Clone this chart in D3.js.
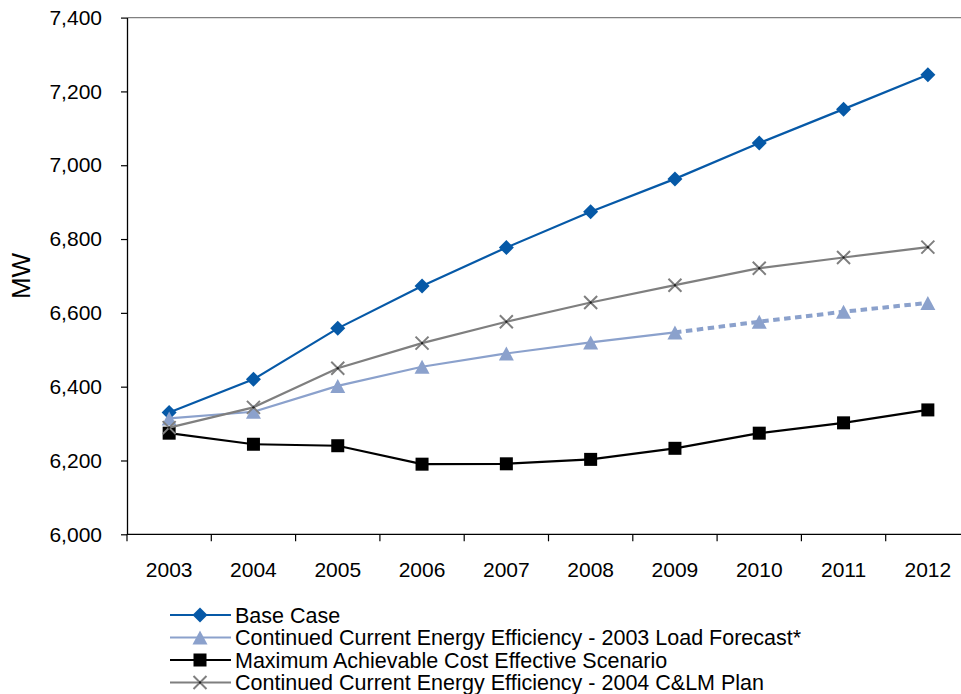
<!DOCTYPE html>
<html>
<head>
<meta charset="utf-8">
<script src="https://cdn.jsdelivr.net/npm/d3@7/dist/d3.min.js"></script>
<style>
  html, body { margin: 0; padding: 0; background: #fff; }
  svg { display: block; font-family: "Liberation Sans", Arial, sans-serif; }
</style>
</head>
<body>
<svg id="chart" width="961" height="694"></svg>
<script>
// Peak load outlook, MW, 2003-2012
const years = ["2003", "2004", "2005", "2006", "2007", "2008", "2009", "2010", "2011", "2012"];
const baseCase        = [6330, 6420, 6558, 6673, 6777, 6874, 6963, 7060, 7152, 7245];
const loadForecast03  = [6314, 6332, 6402, 6454, 6490, 6520, 6547, 6576, 6603, 6627];
const maxAchievable   = [6274, 6244, 6240, 6190, 6191, 6203, 6233, 6274, 6302, 6337];
const clmPlan04       = [6289, 6344, 6450, 6518, 6576, 6628, 6675, 6721, 6750, 6778];
// the 2003 load forecast is shown dashed from this year on
const forecastFrom = "2009";
const yTicks = [6000, 6200, 6400, 6600, 6800, 7000, 7200, 7400];
const seriesNames = [
  "Base Case",
  "Continued Current Energy Efficiency - 2003 Load Forecast*",
  "Maximum Achievable Cost Effective Scenario",
  "Continued Current Energy Efficiency - 2004 C&LM Plan"
];

const series = [
  { name: seriesNames[0], values: baseCase,       color: "#0659a7", width: 2.2, marker: "diamond" },
  { name: seriesNames[1], values: loadForecast03, color: "#8ba1cc", width: 2.2, marker: "triangle" },
  { name: seriesNames[2], values: maxAchievable,  color: "#000000", width: 2.2, marker: "square" },
  { name: seriesNames[3], values: clmPlan04,      color: "#7f7f7f", width: 2.2, marker: "cross" }
];

const svg = d3.select("#chart");
const plot = { left: 127, top: 17.6, bottom: 534.3, right: 970 };

const x = d3.scaleBand().domain(years).range([plot.left, plot.right]).padding(0);
const y = d3.scaleLinear().domain([6000, 7400]).range([plot.bottom, plot.top]);
const cx = d => x(d) + x.bandwidth() / 2;

// top frame line of the plot area
svg.append("line")
  .attr("x1", plot.left).attr("x2", plot.right)
  .attr("y1", plot.top).attr("y2", plot.top)
  .attr("stroke", "#808080").attr("stroke-width", 1.4);

// y axis
const yAxis = svg.append("g")
  .attr("transform", `translate(${plot.left},0)`)
  .call(d3.axisLeft(y).tickValues(yTicks).tickFormat(d3.format(",")).tickSize(6).tickSizeOuter(0).tickPadding(19));
yAxis.select(".domain").attr("stroke", "#000").attr("stroke-width", 1.3);
yAxis.selectAll(".tick line").attr("stroke", "#000").attr("stroke-width", 1.2);
yAxis.selectAll(".tick text").attr("font-size", 21).attr("fill", "#000")
  .attr("font-family", "Liberation Sans, Arial, sans-serif");

// x axis: baseline, boundary ticks, centred year labels
const xAxis = svg.append("g");
xAxis.append("line")
  .attr("x1", plot.left).attr("x2", plot.right)
  .attr("y1", plot.bottom).attr("y2", plot.bottom)
  .attr("stroke", "#000").attr("stroke-width", 1.3);
const boundaries = years.map(d => x(d)).concat([x(years[years.length - 1]) + x.bandwidth()]);
xAxis.selectAll("line.tick").data(boundaries).join("line")
  .attr("class", "tick")
  .attr("x1", d => d).attr("x2", d => d)
  .attr("y1", plot.bottom).attr("y2", plot.bottom + 7)
  .attr("stroke", "#000").attr("stroke-width", 1.2);
xAxis.selectAll("text").data(years).join("text")
  .attr("x", d => cx(d)).attr("y", 576.5)
  .attr("text-anchor", "middle")
  .attr("font-size", 21).attr("fill", "#000")
  .text(d => d);

// y axis title
svg.append("text")
  .attr("transform", "translate(30,276) rotate(-90)")
  .attr("text-anchor", "middle")
  .attr("font-size", 26).attr("fill", "#000")
  .text("MW");

// marker shapes
function drawMarker(g, type, color, px, py) {
  if (type === "diamond") {
    const r = 7.5;
    g.append("path")
      .attr("d", `M${px},${py - r}L${px + r},${py}L${px},${py + r}L${px - r},${py}Z`)
      .attr("fill", color);
  } else if (type === "triangle") {
    const h = 14, w = 15;
    g.append("path")
      .attr("d", `M${px},${py - h / 2}L${px + w / 2},${py + h / 2}L${px - w / 2},${py + h / 2}Z`)
      .attr("fill", color);
  } else if (type === "square") {
    const s = 13;
    g.append("rect")
      .attr("x", px - s / 2).attr("y", py - s / 2)
      .attr("width", s).attr("height", s)
      .attr("fill", color);
  } else if (type === "cross") {
    const r = 6.5;
    g.append("path")
      .attr("d", `M${px - r},${py - r}L${px + r},${py + r}M${px - r},${py + r}L${px + r},${py - r}`)
      .attr("stroke", color).attr("stroke-width", 2).attr("fill", "none");
    g.append("circle").attr("cx", px).attr("cy", py).attr("r", 1.2).attr("fill", "#222");
  }
}

const line = d3.line().x(d => cx(d.year)).y(d => y(d.value));
const splitIndex = years.indexOf(forecastFrom);

series.forEach((s, i) => {
  const g = svg.append("g");
  const pts = years.map((yr, k) => ({ year: yr, value: s.values[k] }));
  if (i === 1) {
    g.append("path").datum(pts.slice(0, splitIndex + 1))
      .attr("d", line).attr("fill", "none")
      .attr("stroke", s.color).attr("stroke-width", s.width);
    g.append("path").datum(pts.slice(splitIndex))
      .attr("d", line).attr("fill", "none")
      .attr("stroke", s.color).attr("stroke-width", 4)
      .attr("stroke-dasharray", "6.5,4.5");
  } else {
    g.append("path").datum(pts)
      .attr("d", line).attr("fill", "none")
      .attr("stroke", s.color).attr("stroke-width", s.width);
  }
  pts.forEach(p => drawMarker(g, s.marker, s.color, cx(p.year), y(p.value)));
});

// legend
const legend = svg.append("g");
const rowY = [615, 637.5, 660, 682.5];
series.forEach((s, i) => {
  const ly = rowY[i];
  legend.append("line")
    .attr("x1", 170).attr("x2", 231)
    .attr("y1", ly).attr("y2", ly)
    .attr("stroke", s.color).attr("stroke-width", 2.2);
  drawMarker(legend, s.marker, s.color, 200, ly);
  legend.append("text")
    .attr("x", 235).attr("y", ly).attr("dy", "0.36em")
    .attr("font-size", 21.5).attr("fill", "#000")
    .text(s.name);
});
</script>
</body>
</html>
